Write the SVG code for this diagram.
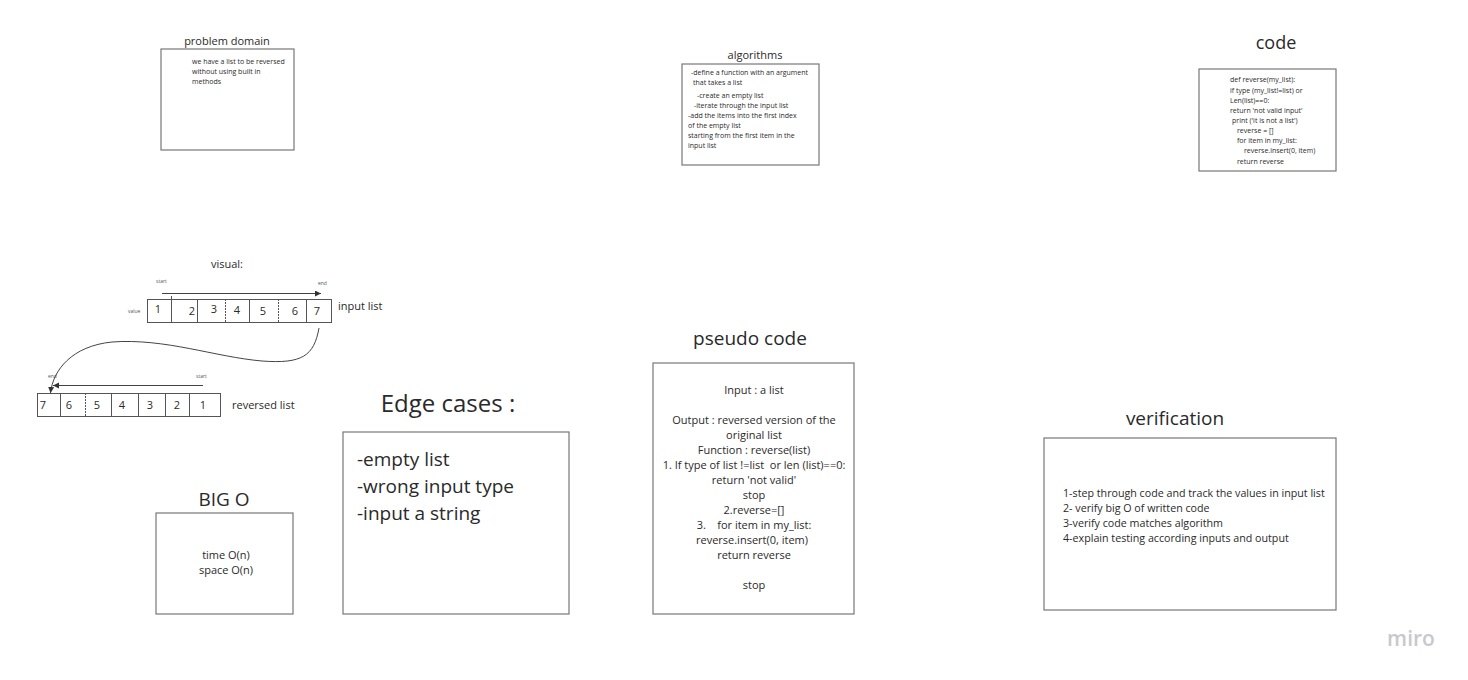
<svg xmlns="http://www.w3.org/2000/svg" width="1468" height="680" viewBox="0 0 1468 680">
<style>
text{font-family:"Open Sans","Noto Sans","Liberation Sans",sans-serif;fill:#2a2a2a}
.box{fill:#fff;stroke:#777;stroke-width:1.2}
.cell{fill:none;stroke:#555;stroke-width:1}
.dash{stroke:#555;stroke-width:1;stroke-dasharray:2 1}
.t11{font-size:11px}
.t7{font-size:7px}
.tiny{font-size:5px;fill:#555}
.c{text-anchor:middle}
.h19{font-size:19px}
.line{fill:none;stroke:#444;stroke-width:1}
</style>
<defs>
<marker id="ah" markerWidth="8" markerHeight="8" refX="6" refY="3" orient="auto" markerUnits="userSpaceOnUse"><path d="M0,0 L6,3 L0,6 z" fill="#333"/></marker>
</defs>
<rect width="1468" height="680" fill="#fff"/>

<g id="problem-domain">
<text x="227" y="45" class="t11 c">problem domain</text>
<rect x="161" y="49" width="133" height="101" class="box"/>
<text class="t7" x="192" y="64">we have a list to be reversed</text>
<text class="t7" x="192" y="74">without using built in</text>
<text class="t7" x="192" y="84">methods</text>
</g>

<g id="algorithms">
<text x="755" y="59" class="t11 c">algorithms</text>
<rect x="682" y="64" width="137" height="101" class="box"/>
<text class="t7" x="691" y="75">-define a function with an argument</text>
<text class="t7" x="693" y="85">that takes a list</text>
<text class="t7" x="697" y="98">-create an empty list</text>
<text class="t7" x="694" y="108">-iterate through the input list</text>
<text class="t7" x="688" y="118">-add the items into the first index</text>
<text class="t7" x="688" y="128">of the empty list</text>
<text class="t7" x="688" y="138">starting from the first item in the</text>
<text class="t7" x="688" y="148">input list</text>
</g>

<g id="code">
<text x="1276" y="49" class="c" style="font-size:18px">code</text>
<rect x="1199" y="69" width="137" height="102" class="box"/>
<text class="t7" x="1230" y="82">def reverse(my_list):</text>
<text class="t7" x="1230" y="93">if type (my_list!=list) or</text>
<text class="t7" x="1230" y="103">Len(list)==0:</text>
<text class="t7" x="1230" y="113">return 'not valid input'</text>
<text class="t7" x="1232" y="123">print ('it is not a list')</text>
<text class="t7" x="1237" y="133">reverse = []</text>
<text class="t7" x="1237" y="143">for item in my_list:</text>
<text class="t7" x="1244" y="153">reverse.insert(0, item)</text>
<text class="t7" x="1237" y="164">return reverse</text>
</g>

<g id="visual">
<text x="227" y="268" class="t11 c">visual:</text>
<text x="156" y="283" class="tiny">start</text>
<text x="318" y="285" class="tiny">end</text>
<text x="128" y="313" class="tiny">value</text>
<text x="338" y="310" class="t11">input list</text>
<text x="232" y="409" class="t11">reversed list</text>
<text x="48" y="378" class="tiny">end</text>
<text x="196" y="378" class="tiny">start</text>
</g>

<g id="input-list">
<rect x="147.5" y="299.5" width="184" height="23" class="cell"/>
<line x1="171.5" y1="296" x2="171.5" y2="323" class="cell"/>
<line x1="197.5" y1="299" x2="197.5" y2="322" class="cell"/>
<line x1="225.5" y1="299" x2="225.5" y2="322" class="dash"/>
<line x1="249.5" y1="299" x2="249.5" y2="322" class="cell"/>
<line x1="278.5" y1="299" x2="278.5" y2="322" class="dash"/>
<line x1="306.5" y1="299" x2="306.5" y2="322" class="cell"/>
<text x="158" y="313" class="t11 c">1</text>
<text x="192" y="315" class="t11 c">2</text>
<text x="214" y="313" class="t11 c">3</text>
<text x="237" y="314" class="t11 c">4</text>
<text x="263" y="315" class="t11 c">5</text>
<text x="295" y="315" class="t11 c">6</text>
<text x="317" y="315" class="t11 c">7</text>
</g>

<g id="reversed-list">
<rect x="37.5" y="393.5" width="183" height="23" class="cell"/>
<line x1="60.5" y1="393" x2="60.5" y2="416" class="cell"/>
<line x1="85.5" y1="393" x2="85.5" y2="416" class="dash"/>
<line x1="111.5" y1="393" x2="111.5" y2="416" class="cell"/>
<line x1="138.5" y1="393" x2="138.5" y2="416" class="cell"/>
<line x1="165.5" y1="393" x2="165.5" y2="416" class="cell"/>
<line x1="189.5" y1="393" x2="189.5" y2="416" class="cell"/>
<text x="43" y="409" class="t11 c">7</text>
<text x="69" y="409" class="t11 c">6</text>
<text x="97" y="409" class="t11 c">5</text>
<text x="122" y="409" class="t11 c">4</text>
<text x="150" y="409" class="t11 c">3</text>
<text x="177" y="409" class="t11 c">2</text>
<text x="203" y="409" class="t11 c">1</text>
</g>

<g id="connectors">
<line x1="162" y1="293.5" x2="321" y2="293.5" class="line" marker-end="url(#ah)"/>
<line x1="203" y1="385.5" x2="53" y2="385.5" class="line" marker-end="url(#ah)"/>
<path d="M319,328 C314,356 302,364 262,361 C215,357 165,338 112,342 C72,346 53,370 50.5,393" class="line" marker-end="url(#ah)"/>
</g>

<g id="edge-cases">
<text x="448" y="412" class="c" style="font-size:24px">Edge cases :</text>
<rect x="343" y="432" width="226" height="182" class="box"/>
<text x="357" y="466" class="h19">-empty list</text>
<text x="357" y="493" class="h19">-wrong input type</text>
<text x="357" y="520" class="h19">-input a string</text>
</g>

<g id="big-o">
<text x="224" y="506" class="h19 c">BIG O</text>
<rect x="156" y="513" width="137" height="101" class="box"/>
<text x="226" y="559" class="t11 c">time O(n)</text>
<text x="226" y="574" class="t11 c">space O(n)</text>
</g>

<g id="pseudo-code">
<text x="750" y="345" class="h19 c">pseudo code</text>
<rect x="653" y="363" width="201" height="251" class="box"/>
<text x="754" y="394" class="t11 c">Input : a list</text>
<text x="754" y="424" class="t11 c">Output : reversed version of the</text>
<text x="754" y="439" class="t11 c">original list</text>
<text x="754" y="454" class="t11 c">Function : reverse(list)</text>
<text x="754" y="469" class="t11 c" xml:space="preserve">1. If type of list !=list  or len (list)==0:</text>
<text x="754" y="484" class="t11 c">return 'not valid'</text>
<text x="754" y="499" class="t11 c">stop</text>
<text x="754" y="514" class="t11 c">2.reverse=[]</text>
<text x="754" y="529" class="t11 c" xml:space="preserve">3.    for item in my_list:</text>
<text x="752" y="544" class="t11 c">reverse.insert(0, item)</text>
<text x="754" y="559" class="t11 c">return reverse</text>
<text x="754" y="589" class="t11 c">stop</text>
</g>

<g id="verification">
<text x="1175" y="425" class="h19 c">verification</text>
<rect x="1044" y="438" width="292" height="172" class="box"/>
<text x="1063" y="497" style="font-size:10.7px">1-step through code and track the values in input list</text>
<text x="1063" y="512" style="font-size:10.7px">2- verify big O of written code</text>
<text x="1063" y="527" style="font-size:10.7px">3-verify code matches algorithm</text>
<text x="1063" y="542" style="font-size:10.7px">4-explain testing according inputs and output</text>
</g>

<text x="1411" y="646" class="c" style="font-size:21px;font-weight:600;fill:#c8c8cc">miro</text>
</svg>
